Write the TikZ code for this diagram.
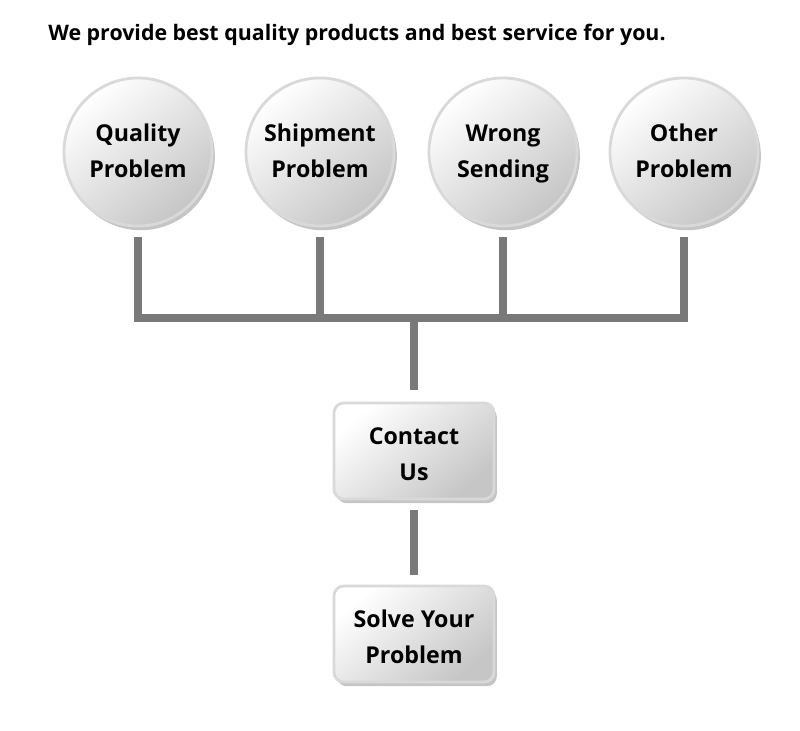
\documentclass[tikz,border=0pt]{standalone}
\usepackage{fontspec}
\setmainfont{Open Sans}
\usetikzlibrary{shapes,positioning,shadows}
\newcommand{\topstrut}[1]{\rule{0pt}{#1}}
\newcommand{\botstrut}{\rule[-0.25em]{0pt}{0.25em}}

\begin{document}
\begin{tikzpicture}[x=0.025cm,y=0.025cm,
        problem/.style={circle,minimum size=3.7cm,draw=gray!30,line width=2pt,
            top color=white,bottom color=gray!45,shading angle=40,
            drop shadow={shadow xshift=2pt,shadow yshift=-3pt,opacity=0.45},
            align=center,font=\bfseries\fontsize{16.5}{26}\selectfont},
        stepbox/.style={rectangle,rounded corners=7pt,minimum width=4cm,minimum height=2.4cm,
            draw=gray!30,line width=2pt,
            top color=white,bottom color=gray!45,shading angle=40,
            drop shadow={shadow xshift=2pt,shadow yshift=-3pt,opacity=0.45},
            align=center,font=\bfseries\fontsize{16.5}{26}\selectfont},
        link/.style={draw=gray!95!black,line width=5pt,shorten <=0.25cm}]
        % Draw page background
        \fill[white] (0,0) rectangle (800,730);
        \useasboundingbox (0,0) rectangle (800,730);
        % Draw title
        \node[anchor=west,inner sep=0pt,font=\bfseries\fontsize{15.2}{18}\selectfont] (title) at (48,695)
            {We provide best quality products and best service for you.};
        % Draw problem circles
        \node[problem] (quality) at (138,578) {\topstrut{0.91em}Quality\\Problem\botstrut};
        \node[problem] (shipment) at (320,578) {\topstrut{0.91em}Shipment\\Problem\botstrut};
        \node[problem] (wrong) at (503,578) {\topstrut{0.91em}Wrong\\Sending\botstrut};
        \node[problem] (other) at (684,578) {\topstrut{0.91em}Other\\Problem\botstrut};
        % Draw service boxes
        \node[stepbox] (contact) at (414,279) {\topstrut{1.25em}Contact\\Us\botstrut};
        \node[stepbox] (solve) at (414,96) {\topstrut{1.25em}Solve Your\\Problem\botstrut};
        % Draw connecting lines
        \coordinate (hub) at (414,412);
        \draw[link] (quality) |- (hub);
        \draw[link] (other) |- (hub);
        \draw[link] (shipment) -- (shipment |- hub);
        \draw[link] (wrong) -- (wrong |- hub);
        \draw[link,shorten <=0pt,shorten >=0.3cm] (hub) -- (contact);
        \draw[link,shorten >=0.25cm] (contact) -- (solve);
\end{tikzpicture}
\end{document}
